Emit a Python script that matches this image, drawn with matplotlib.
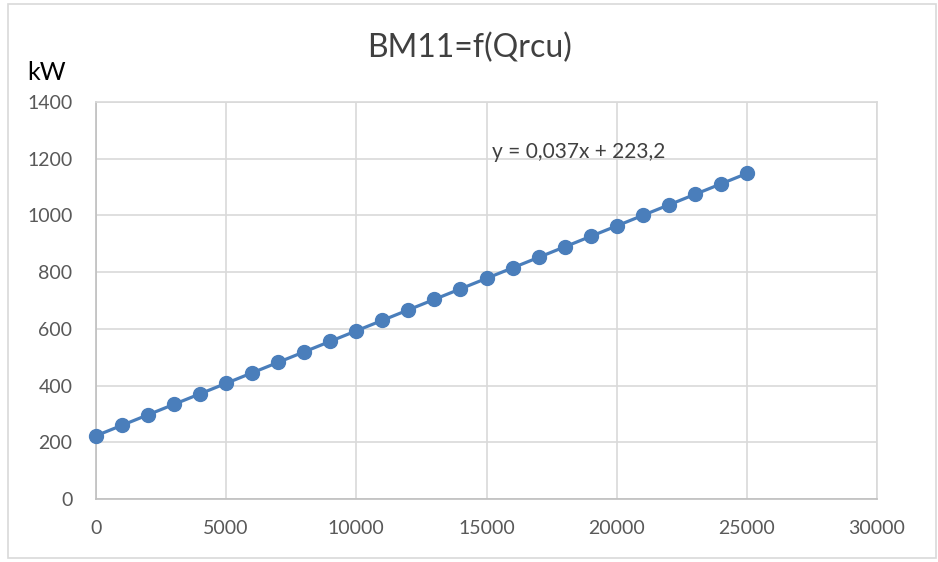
import matplotlib.pyplot as plt
from matplotlib.patches import Rectangle

# data
qrcu = [0, 1000, 2000, 3000, 4000, 5000, 6000, 7000, 8000, 9000, 10000, 11000, 12000,
        13000, 14000, 15000, 16000, 17000, 18000, 19000, 20000, 21000, 22000, 23000,
        24000, 25000]
bm11 = [223, 260, 297, 334, 371, 408, 445, 482, 519, 556, 593, 630, 667,
        704, 741, 778, 815, 852, 889, 926, 963, 1000, 1037, 1074, 1111, 1148]
x_ticks = [0, 5000, 10000, 15000, 20000, 25000, 30000]
y_ticks = [0, 200, 400, 600, 800, 1000, 1200, 1400]

plt.rcParams['font.family'] = ['Lato', 'DejaVu Sans']

fig = plt.figure(figsize=(9.38, 5.62), dpi=100)
fig.patches.append(Rectangle((8 / 938, 4 / 562), 928 / 938, 554 / 562,
                             transform=fig.transFigure, fill=False,
                             edgecolor='#d9d9d9', linewidth=1.2))

ax = fig.add_axes([96 / 938, 1 - 499 / 562, 781 / 938, 397 / 562])
ax.plot(qrcu, bm11, color='#4a7ebb', linewidth=2.3, marker='o',
        markersize=10, zorder=3, clip_on=False)

ax.set_xlim(0, 30000)
ax.set_ylim(0, 1400)
ax.set_xticks(x_ticks)
ax.set_yticks(y_ticks)
ax.grid(True, color='#d9d9d9', linewidth=1.2)
ax.set_axisbelow(True)
for s in ax.spines.values():
    s.set_color('#d9d9d9')
    s.set_linewidth(1.2)
ax.spines['left'].set_color('#bfbfbf')
ax.spines['bottom'].set_color('#bfbfbf')
ax.tick_params(length=0, labelsize=14, labelcolor='#595959')
ax.tick_params(axis='y', pad=17)
ax.tick_params(axis='x', pad=15)

fig.text(470 / 938, 1 - 48 / 562, 'BM11=f(Qrcu)', ha='center', va='center',
         fontsize=23, color='#404040')
fig.text(27 / 938, 1 - 72 / 562, 'kW', ha='left', va='center',
         fontsize=18, color='#000000')
ax.text(15200, 1225, 'y = 0,037x + 223,2', ha='left', va='center',
        fontsize=15, color='#404040')

fig.savefig('out.png', dpi=100)
